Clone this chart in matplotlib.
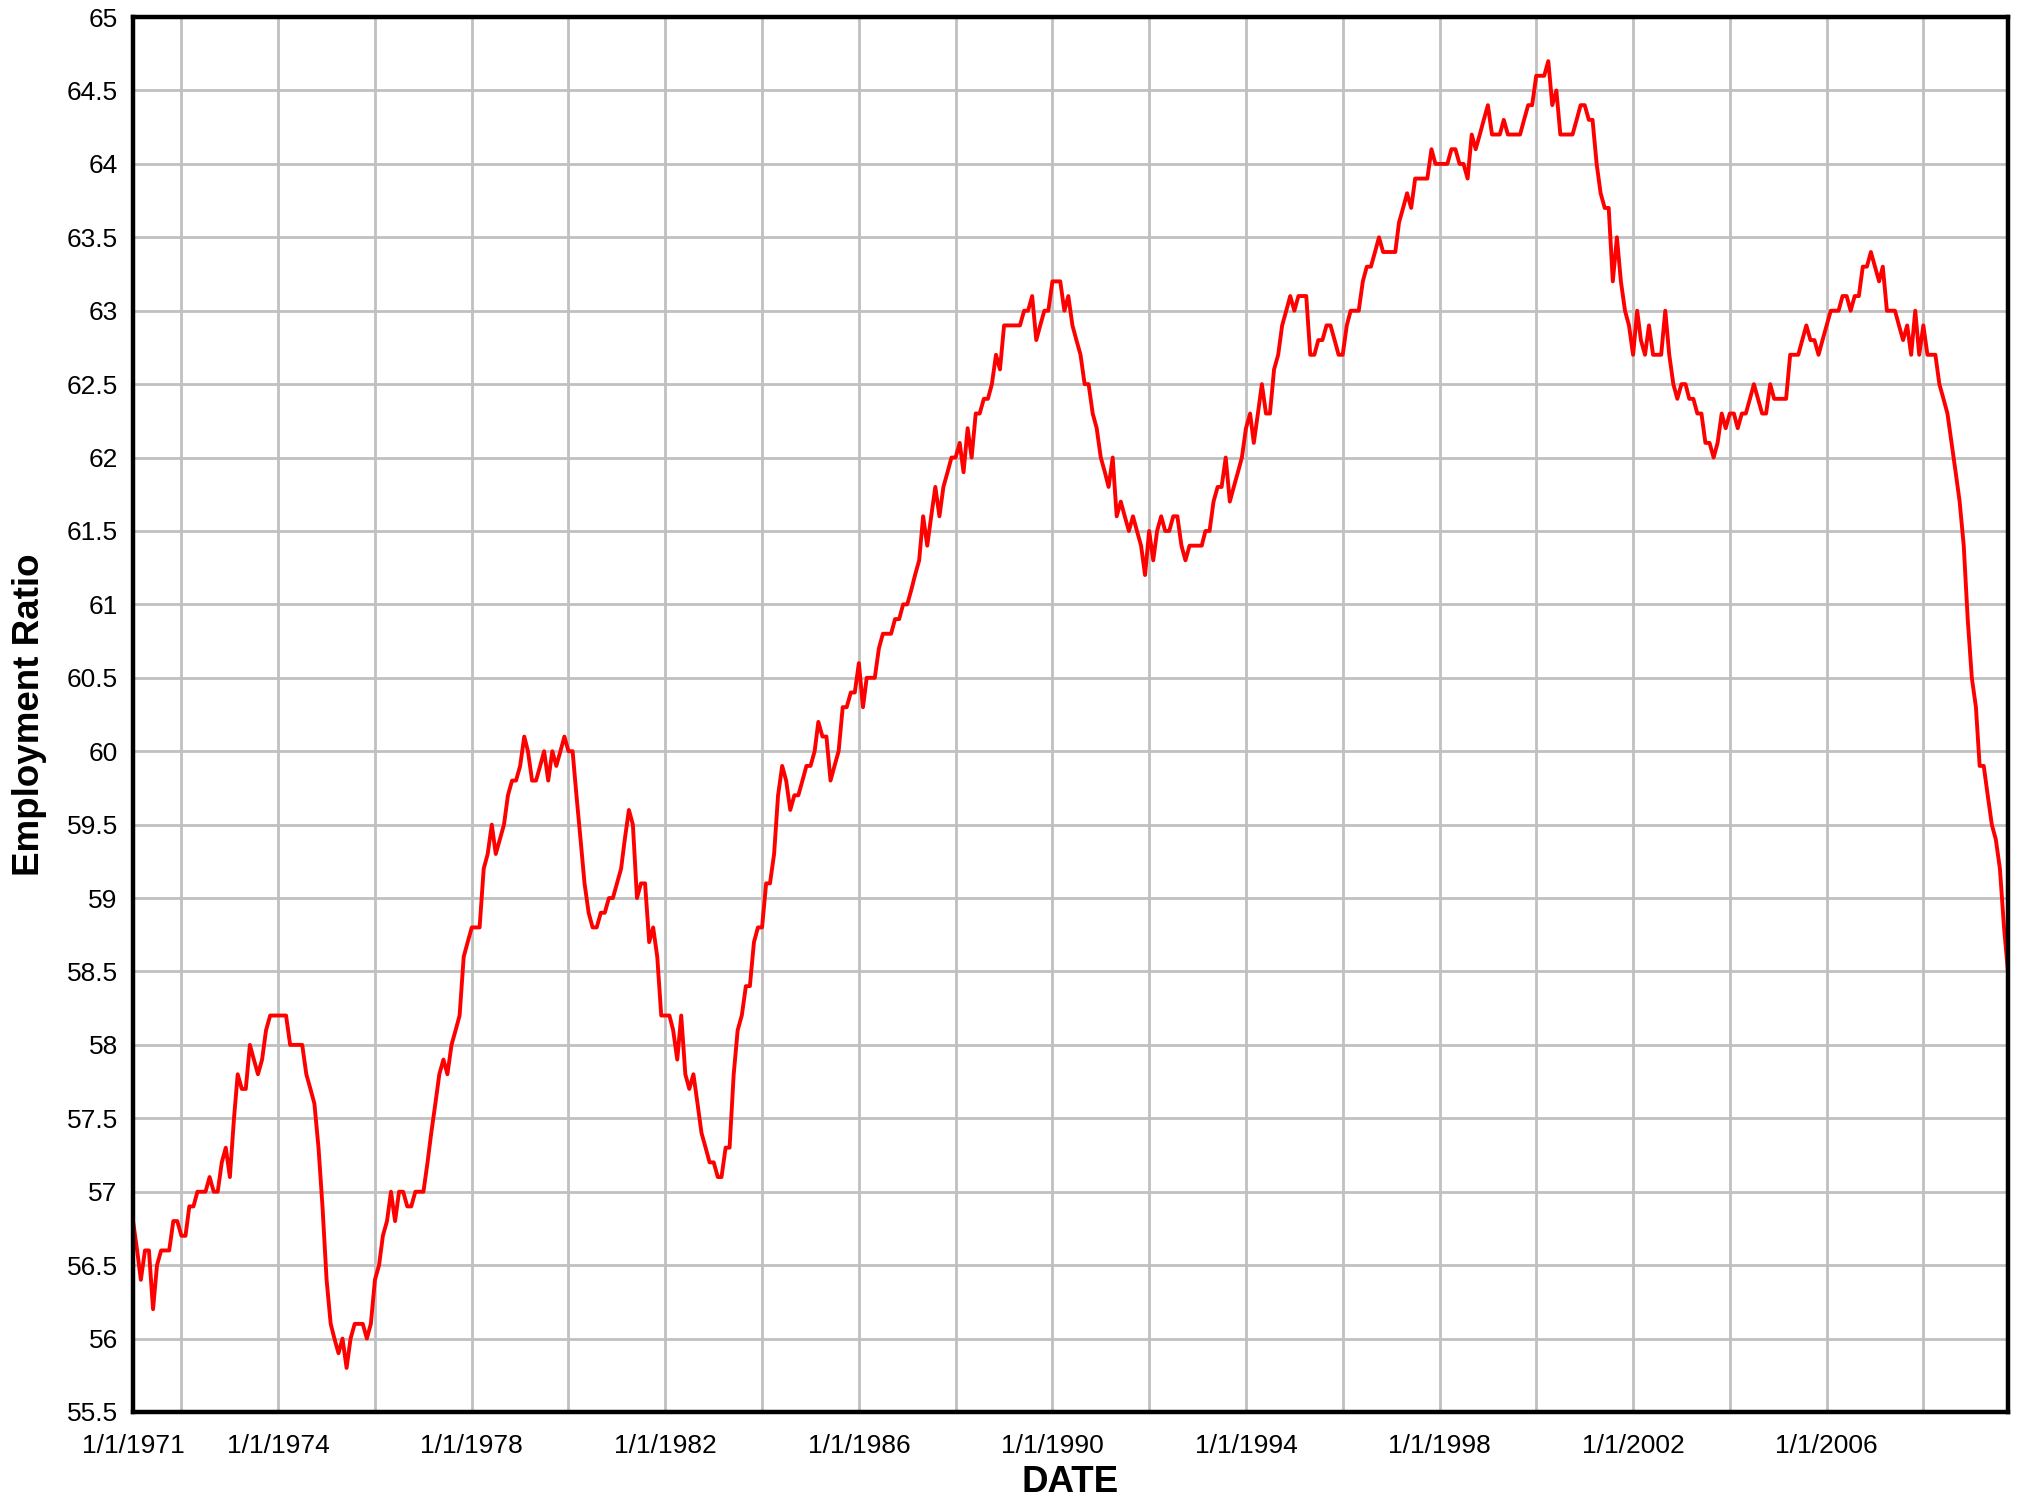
import numpy as np
import pandas as pd
import matplotlib
matplotlib.use("Agg")
import matplotlib.pyplot as plt
import matplotlib.dates as mdates
from matplotlib.ticker import FixedLocator, FuncFormatter

plt.rcParams['font.family'] = ['Liberation Sans', 'DejaVu Sans']

# monthly employment ratio, Jan 1971 .. Oct 2009
ratio_1970s = [
    56.8, 56.6, 56.4, 56.6, 56.6, 56.2, 56.5, 56.6, 56.6, 56.6, 56.8, 56.8,  # 1971
    56.7, 56.7, 56.9, 56.9, 57.0, 57.0, 57.0, 57.1, 57.0, 57.0, 57.2, 57.3,  # 1972
    57.1, 57.5, 57.8, 57.7, 57.7, 58.0, 57.9, 57.8, 57.9, 58.1, 58.2, 58.2,  # 1973
    58.2, 58.2, 58.2, 58.0, 58.0, 58.0, 58.0, 57.8, 57.7, 57.6, 57.3, 56.9,  # 1974
    56.4, 56.1, 56.0, 55.9, 56.0, 55.8, 56.0, 56.1, 56.1, 56.1, 56.0, 56.1,  # 1975
    56.4, 56.5, 56.7, 56.8, 57.0, 56.8, 57.0, 57.0, 56.9, 56.9, 57.0, 57.0,  # 1976
    57.0, 57.2, 57.4, 57.6, 57.8, 57.9, 57.8, 58.0, 58.1, 58.2, 58.6, 58.7,  # 1977
    58.8, 58.8, 58.8, 59.2, 59.3, 59.5, 59.3, 59.4, 59.5, 59.7, 59.8, 59.8,  # 1978
    59.9, 60.1, 60.0, 59.8, 59.8, 59.9, 60.0, 59.8, 60.0, 59.9, 60.0, 60.1,  # 1979
]
ratio_1980s = [
    60.0, 60.0, 59.7, 59.4, 59.1, 58.9, 58.8, 58.8, 58.9, 58.9, 59.0, 59.0,  # 1980
    59.1, 59.2, 59.4, 59.6, 59.5, 59.0, 59.1, 59.1, 58.7, 58.8, 58.6, 58.2,  # 1981
    58.2, 58.2, 58.1, 57.9, 58.2, 57.8, 57.7, 57.8, 57.6, 57.4, 57.3, 57.2,  # 1982
    57.2, 57.1, 57.1, 57.3, 57.3, 57.8, 58.1, 58.2, 58.4, 58.4, 58.7, 58.8,  # 1983
    58.8, 59.1, 59.1, 59.3, 59.7, 59.9, 59.8, 59.6, 59.7, 59.7, 59.8, 59.9,  # 1984
    59.9, 60.0, 60.2, 60.1, 60.1, 59.8, 59.9, 60.0, 60.3, 60.3, 60.4, 60.4,  # 1985
    60.6, 60.3, 60.5, 60.5, 60.5, 60.7, 60.8, 60.8, 60.8, 60.9, 60.9, 61.0,  # 1986
    61.0, 61.1, 61.2, 61.3, 61.6, 61.4, 61.6, 61.8, 61.6, 61.8, 61.9, 62.0,  # 1987
    62.0, 62.1, 61.9, 62.2, 62.0, 62.3, 62.3, 62.4, 62.4, 62.5, 62.7, 62.6,  # 1988
    62.9, 62.9, 62.9, 62.9, 62.9, 63.0, 63.0, 63.1, 62.8, 62.9, 63.0, 63.0,  # 1989
]
ratio_1990s = [
    63.2, 63.2, 63.2, 63.0, 63.1, 62.9, 62.8, 62.7, 62.5, 62.5, 62.3, 62.2,  # 1990
    62.0, 61.9, 61.8, 62.0, 61.6, 61.7, 61.6, 61.5, 61.6, 61.5, 61.4, 61.2,  # 1991
    61.5, 61.3, 61.5, 61.6, 61.5, 61.5, 61.6, 61.6, 61.4, 61.3, 61.4, 61.4,  # 1992
    61.4, 61.4, 61.5, 61.5, 61.7, 61.8, 61.8, 62.0, 61.7, 61.8, 61.9, 62.0,  # 1993
    62.2, 62.3, 62.1, 62.3, 62.5, 62.3, 62.3, 62.6, 62.7, 62.9, 63.0, 63.1,  # 1994
    63.0, 63.1, 63.1, 63.1, 62.7, 62.7, 62.8, 62.8, 62.9, 62.9, 62.8, 62.7,  # 1995
    62.7, 62.9, 63.0, 63.0, 63.0, 63.2, 63.3, 63.3, 63.4, 63.5, 63.4, 63.4,  # 1996
    63.4, 63.4, 63.6, 63.7, 63.8, 63.7, 63.9, 63.9, 63.9, 63.9, 64.1, 64.0,  # 1997
    64.0, 64.0, 64.0, 64.1, 64.1, 64.0, 64.0, 63.9, 64.2, 64.1, 64.2, 64.3,  # 1998
    64.4, 64.2, 64.2, 64.2, 64.3, 64.2, 64.2, 64.2, 64.2, 64.3, 64.4, 64.4,  # 1999
]
ratio_2000s = [
    64.6, 64.6, 64.6, 64.7, 64.4, 64.5, 64.2, 64.2, 64.2, 64.2, 64.3, 64.4,  # 2000
    64.4, 64.3, 64.3, 64.0, 63.8, 63.7, 63.7, 63.2, 63.5, 63.2, 63.0, 62.9,  # 2001
    62.7, 63.0, 62.8, 62.7, 62.9, 62.7, 62.7, 62.7, 63.0, 62.7, 62.5, 62.4,  # 2002
    62.5, 62.5, 62.4, 62.4, 62.3, 62.3, 62.1, 62.1, 62.0, 62.1, 62.3, 62.2,  # 2003
    62.3, 62.3, 62.2, 62.3, 62.3, 62.4, 62.5, 62.4, 62.3, 62.3, 62.5, 62.4,  # 2004
    62.4, 62.4, 62.4, 62.7, 62.7, 62.7, 62.8, 62.9, 62.8, 62.8, 62.7, 62.8,  # 2005
    62.9, 63.0, 63.0, 63.0, 63.1, 63.1, 63.0, 63.1, 63.1, 63.3, 63.3, 63.4,  # 2006
    63.3, 63.2, 63.3, 63.0, 63.0, 63.0, 62.9, 62.8, 62.9, 62.7, 63.0, 62.7,  # 2007
    62.9, 62.7, 62.7, 62.7, 62.5, 62.4, 62.3, 62.1, 61.9, 61.7, 61.4, 60.9,  # 2008
    60.5, 60.3, 59.9, 59.9, 59.7, 59.5, 59.4, 59.2, 58.8, 58.5,              # 2009
]

label_years = [1971, 1974, 1978, 1982, 1986, 1990, 1994, 1998, 2002, 2006]
grid_years = list(range(1972, 2009, 2))
y_ticks = np.arange(55.5, 65.01, 0.5)

ratio = ratio_1970s + ratio_1980s + ratio_1990s + ratio_2000s
dates = pd.date_range("1971-01-01", periods=len(ratio), freq="MS")

fig = plt.figure(figsize=(20.25, 14.97), dpi=100)
ax = fig.add_axes([0.0657, 0.0568, 0.9259, 0.9318])

ax.plot(dates, ratio, color="#ff0000", lw=2.8, zorder=3)

ax.set_xlim(dates[0], dates[-1])
ax.set_ylim(55.5, 65)

ax.xaxis.remove_overlapping_locs = False
ax.xaxis.set_major_locator(FixedLocator([mdates.date2num(pd.Timestamp(y, 1, 1)) for y in label_years]))
ax.xaxis.set_major_formatter(FuncFormatter(lambda v, p: "1/1/%d" % mdates.num2date(v).year))
ax.xaxis.set_minor_locator(FixedLocator([mdates.date2num(pd.Timestamp(y, 1, 1)) for y in grid_years]))
ax.set_yticks(y_ticks)
ax.yaxis.set_major_formatter(FuncFormatter(lambda v, p: "%g" % round(v, 1)))

ax.grid(False)
ax.xaxis.grid(True, which="minor", color="#c0c0c0", lw=2.0)
ax.yaxis.grid(True, which="major", color="#c0c0c0", lw=2.0)
ax.set_axisbelow(True)

ax.tick_params(axis="both", which="both", length=0, labelsize=19)
ax.tick_params(axis="x", pad=16)
ax.tick_params(axis="y", pad=11)

for s in ax.spines.values():
    s.set_linewidth(3.2)
    s.set_color("black")
    s.set_zorder(4)

ax.set_xlabel("DATE", fontsize=26.5, fontweight="bold", labelpad=5)
ax.set_ylabel("Employment Ratio", fontsize=26.5, fontweight="bold", labelpad=14)

fig.savefig("out.png", dpi=100)
